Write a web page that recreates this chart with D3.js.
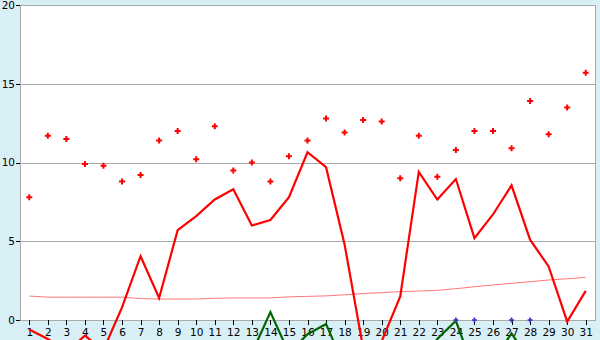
<!DOCTYPE html>
<html lang="en">
<head>
<meta charset="UTF-8" />
<title>Daily chart</title>
<script src="https://cdn.jsdelivr.net/npm/d3@7"></script>
<style>
  body { margin: 0; background: #d9eff6; overflow: hidden; }
  text { font-family: "DejaVu Sans", sans-serif; font-size: 10.5px; fill: #000; }
</style>
</head>
<body>
<div id="chart"></div>
<script>
// day labels on the x axis
const days = [1, 2, 3, 4, 5, 6, 7, 8, 9, 10, 11, 12, 13, 14, 15, 16, 17, 18, 19, 20,
  21, 22, 23, 24, 25, 26, 27, 28, 29, 30, 31];
const yTicks = [0, 5, 10, 15, 20];

// red markers
const redPoints = [7.8, 11.7, 11.5, 9.9, 9.8, 8.8, 9.2, 11.4, 12.0, 10.2, 12.3, 9.5, 10.0, 8.8,
  10.4, 11.4, 12.8, 11.9, 12.7, 12.6, 9.0, 11.7, 9.1, 10.8, 12.0, 12.0, 10.9, 13.9, 11.8, 13.5, 15.7];
// thick red line
const redLine = [-0.6, -1.2, -2.0, -1.0, -1.9, 0.8, 4.05, 1.4, 5.7, 6.6, 7.65, 8.3, 6.0, 6.35,
  7.8, 10.65, 9.7, 4.8, -1.8, -1.35, 1.5, 9.4, 7.65, 8.95, 5.2, 6.7, 8.55, 5.1, 3.4, -0.1, 1.85];
// thin pink line
const pinkLine = [1.52, 1.45, 1.45, 1.45, 1.45, 1.45, 1.36, 1.33, 1.33, 1.33, 1.38, 1.4, 1.4, 1.4,
  1.47, 1.5, 1.53, 1.6, 1.68, 1.74, 1.8, 1.84, 1.88, 1.99, 2.11, 2.22, 2.33, 2.43, 2.54, 2.62, 2.71];
// dark green line (mostly below zero)
const greenLine = [-3, -3, -3, -3, -3, -3, -3, -3, -3, -3, -3, -3, -2.1, 0.5, -2.1, -0.9, -0.25,
  -3, -3, -3, -3, -3, -1.2, -0.05, -3.3, -2.6, -0.85, -2.6, -3, -3, -3];
// blue dots, only some days
const blueDays = [24, 25, 27, 28];
const blueVals = [0, 0, 0, 0];

const width = 600, height = 340;
const margin = { top: 5, right: 5, bottom: 20, left: 20 };

const svg = d3.select("#chart")
  .append("svg")
  .attr("width", width)
  .attr("height", height);

svg.append("rect")
  .attr("width", width).attr("height", height)
  .attr("fill", "#d9eff6");

const x = d3.scalePoint()
  .domain(days)
  .range([margin.left, width - margin.right])
  .padding(0.5);

const y = d3.scaleLinear()
  .domain([0, 20])
  .range([height - margin.bottom, margin.top]);

// plot area
svg.append("rect")
  .attr("x", margin.left).attr("y", margin.top)
  .attr("width", width - margin.left - margin.right)
  .attr("height", height - margin.top - margin.bottom)
  .attr("fill", "#fff")
  .attr("stroke", "#aaa")
  .attr("shape-rendering", "crispEdges");

// horizontal grid
svg.append("g")
  .selectAll("line")
  .data(yTicks)
  .join("line")
  .attr("x1", margin.left)
  .attr("x2", width - margin.right)
  .attr("y1", d => Math.round(y(d)) + 0.5)
  .attr("y2", d => Math.round(y(d)) + 0.5)
  .attr("stroke", "#aaa");

// axes
const yAxis = svg.append("g")
  .attr("transform", `translate(${margin.left},0)`)
  .call(d3.axisLeft(y).tickValues(yTicks).tickSize(4).tickPadding(1));
yAxis.select(".domain").remove();
yAxis.selectAll("line").attr("stroke", "#000").attr("shape-rendering", "crispEdges");
yAxis.selectAll("text").style("font-size", "10.5px").attr("font-family", null);

const xAxis = svg.append("g")
  .attr("transform", `translate(0,${height - margin.bottom})`)
  .call(d3.axisBottom(x).tickSize(5).tickPadding(4));
xAxis.select(".domain").remove();
xAxis.selectAll("line").attr("stroke", "#000").attr("shape-rendering", "crispEdges");
xAxis.selectAll("text").style("font-size", "10.5px").attr("font-family", null);

// left axis line on top of the ticks
svg.append("line")
  .attr("x1", margin.left + 0.5).attr("x2", margin.left + 0.5)
  .attr("y1", margin.top).attr("y2", height - margin.bottom)
  .attr("stroke", "#aaa");

const line = vals => d3.line()
  .x((d, i) => x(days[i]))
  .y(d => y(d))(vals);

svg.append("path")
  .attr("d", line(pinkLine))
  .attr("fill", "none")
  .attr("stroke", "#ff7777")
  .attr("stroke-width", 1);

svg.append("path")
  .attr("d", line(redLine))
  .attr("fill", "none")
  .attr("stroke", "#ff0000")
  .attr("stroke-width", 2.2);

svg.append("path")
  .attr("d", line(greenLine))
  .attr("fill", "none")
  .attr("stroke", "#006600")
  .attr("stroke-width", 2.2);

// red markers
svg.append("g")
  .selectAll("path")
  .data(redPoints)
  .join("path")
  .attr("transform", (d, i) => `translate(${x(days[i])},${y(d)})`)
  .attr("d", d3.symbol(d3.symbolCross, 20))
  .attr("fill", "#ff0000");

// blue dots
svg.append("g")
  .selectAll("path")
  .data(blueVals)
  .join("path")
  .attr("transform", (d, i) => `translate(${x(blueDays[i])},${y(d)})`)
  .attr("d", d3.symbol(d3.symbolCross, 14))
  .attr("fill", "#3333cc");
</script>
</body>
</html>
